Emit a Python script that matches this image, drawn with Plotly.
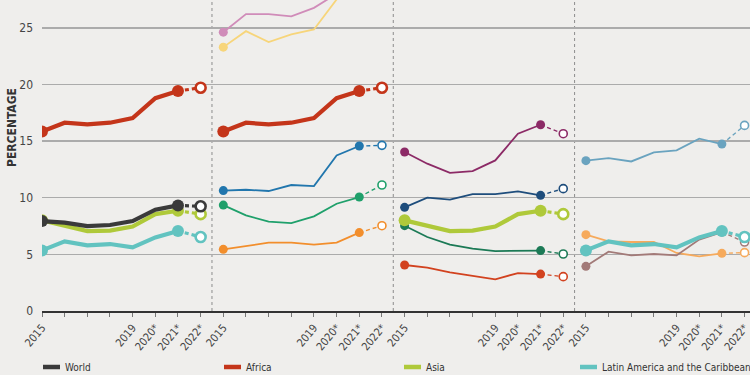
import plotly.graph_objects as go

years = ["2015", "", "", "", "2019", "2020*", "2021*", "2022*"]

# Panel 1 (regions)
world = [7.94, 7.80, 7.50, 7.59, 7.94, 8.94, 9.32, 9.24]
africa = [15.85, 16.62, 16.47, 16.62, 17.03, 18.79, 19.41, 19.71]
asia = [8.00, 7.50, 7.05, 7.10, 7.45, 8.55, 8.85, 8.55]
lac = [5.35, 6.15, 5.80, 5.91, 5.62, 6.50, 7.06, 6.53]

# Panel 2 (African subregions)
afr_pink = [24.61, 26.20, 26.20, 26.00, 26.76, 28.00, 28.6, 29.0]
afr_yellow = [23.29, 24.70, 23.73, 24.41, 24.85, 27.50, 28.6, 29.2]
afr_blue = [10.63, 10.70, 10.59, 11.12, 11.03, 13.73, 14.56, 14.62]
afr_green = [9.35, 8.44, 7.89, 7.76, 8.35, 9.47, 10.06, 11.12]
afr_orange = [5.44, 5.73, 6.03, 6.03, 5.86, 6.03, 6.92, 7.53]

# Panel 3 (Asian subregions)
asi_purple = [14.03, 13.00, 12.20, 12.35, 13.29, 15.65, 16.44, 15.65]
asi_navy = [9.15, 10.00, 9.83, 10.32, 10.32, 10.56, 10.21, 10.80]
asi_green = [7.53, 6.53, 5.86, 5.50, 5.29, 5.29, 5.33, 5.03]
asi_red = [4.06, 3.83, 3.41, 3.09, 2.80, 3.35, 3.26, 3.03]

# Panel 4 (Latin American subregions)
lac_steel = [13.27, 13.50, 13.20, 14.00, 14.18, 15.21, 14.73, 16.38]
lac_orange = [6.74, 6.15, 6.09, 6.09, 5.12, 4.83, 5.09, 5.15]
lac_mauve = [3.94, 5.24, 4.91, 5.03, 4.91, 6.30, 6.97, 6.09]

legend_names = ["World", "Africa", "Asia", "Latin America and the Caribbean"]

C_WORLD = "#3a3a3a"
C_AFR = "#c4351a"
C_ASIA = "#afc93a"
C_LAC = "#62c3c0"

thick = 4.2
thin = 1.8

panels = [
    [(africa, C_AFR, thick), (asia, C_ASIA, thick), (lac, C_LAC, thick), (world, C_WORLD, thick)],
    [(afr_pink, "#d08cb9", thin), (afr_yellow, "#f7d57a", thin), (afr_blue, "#2176ad", thin),
     (afr_green, "#1fa06b", thin), (afr_orange, "#f28e2c", thin), (africa, C_AFR, thick)],
    [(asi_purple, "#8c2a66", thin), (asi_navy, "#1e4d7c", thin), (asi_green, "#1c7a56", thin),
     (asi_red, "#d2421f", thin), (asia, C_ASIA, thick)],
    [(lac_steel, "#6aa3bf", thin), (lac_orange, "#f6aa5c", thin), (lac_mauve, "#a27a78", thin),
     (lac, C_LAC, thick)],
]

BG = "#efeeec"
fig = go.Figure()
for p, series in enumerate(panels):
    for vals, col, w in series:
        xs = [p * 8 + i for i in range(8)]
        msize = 12 if w == thick else 9
        fig.add_trace(go.Scatter(x=xs[:7], y=vals[:7], mode="lines",
                                 line=dict(color=col, width=w), showlegend=False, hoverinfo="skip"))
        fig.add_trace(go.Scatter(x=xs[6:8], y=vals[6:8], mode="lines",
                                 line=dict(color=col, width=w * 0.75, dash="4px,3px"),
                                 showlegend=False, hoverinfo="skip"))
        fig.add_trace(go.Scatter(x=[xs[0], xs[6]], y=[vals[0], vals[6]], mode="markers",
                                 marker=dict(color=col, size=msize, line=dict(width=0)),
                                 showlegend=False, hoverinfo="skip"))
        fig.add_trace(go.Scatter(x=[xs[7]], y=[vals[7]], mode="markers",
                                 marker=dict(color="white", size=msize - 2 if w == thick else msize - 1,
                                             line=dict(color=col, width=2.6 if w == thick else 1.6)),
                                 showlegend=False, hoverinfo="skip"))

tickvals = [p * 8 + i for p in range(4) for i in range(8)]
ticktext = [years[i] for p in range(4) for i in range(8)]

FONT = "DejaVu Sans Condensed, Liberation Sans Narrow, Roboto Condensed, Arial Narrow, DejaVu Sans, sans-serif"

shapes = []
for s in [7.5, 15.5, 23.5]:
    shapes.append(dict(type="line", xref="x", yref="y", x0=s, x1=s, y0=0, y1=27.45,
                       line=dict(color="#8c8c8c", width=1, dash="dot"), layer="below"))

annotations = [dict(text="<b>PERCENTAGE</b>", xref="paper", yref="paper", x=-30 / 708,
                    y=1 - 128 / 311, textangle=-90, showarrow=False,
                    font=dict(family=FONT, size=12, color="#333"), xanchor="center", yanchor="middle")]
leg_colors = [C_WORLD, C_AFR, C_ASIA, C_LAC]
leg_x = [43, 224, 404, 580]
LEG_Y = 367
for name, col, lx in zip(legend_names, leg_colors, leg_x):
    shapes.append(dict(type="line", xref="paper", yref="paper",
                       x0=(lx - 42) / 708, x1=(lx - 42 + 17) / 708,
                       y0=-(LEG_Y - 311) / 311, y1=-(LEG_Y - 311) / 311,
                       line=dict(color=col, width=4.5)))
    annotations.append(dict(text=name, xref="paper", yref="paper", x=(lx - 42 + 20) / 708,
                            y=-(LEG_Y - 311) / 311, xanchor="left", yanchor="middle", showarrow=False,
                            font=dict(family=FONT, size=10, color="#333")))

fig.update_layout(
    width=750, height=375,
    margin=dict(l=42, r=0, t=0, b=64),
    paper_bgcolor=BG, plot_bgcolor=BG,
    shapes=shapes, annotations=annotations,
    xaxis=dict(range=[0, 31.24], tickvals=tickvals, ticktext=ticktext, tickangle=-50,
               showgrid=False, zeroline=False, showline=True, linecolor="#333", linewidth=2,
               ticks="outside", ticklen=4, tickcolor="#777", tickwidth=1, automargin=False,
               ticklabeloverflow="allow",
               tickfont=dict(family=FONT, size=11, color="#444")),
    yaxis=dict(range=[0, 27.45], tickvals=[0, 5, 10, 15, 20, 25], showgrid=True,
               gridcolor="#ababab", gridwidth=1.5, zeroline=False, showline=False, ticks="",
               ticklabelstandoff=8, automargin=False,
               tickfont=dict(family=FONT, size=12, color="#444")),
)

post = ("document.body.style.margin='0';document.body.style.overflow='hidden';"
        "document.body.style.background='" + BG + "';"
        "var st=document.createElement('style');"
        "st.innerHTML='svg text{font-stretch:condensed !important;}';"
        "document.head.appendChild(st);")

fig.write_html("out.html", config={"displayModeBar": False, "staticPlot": True}, post_script=post)
